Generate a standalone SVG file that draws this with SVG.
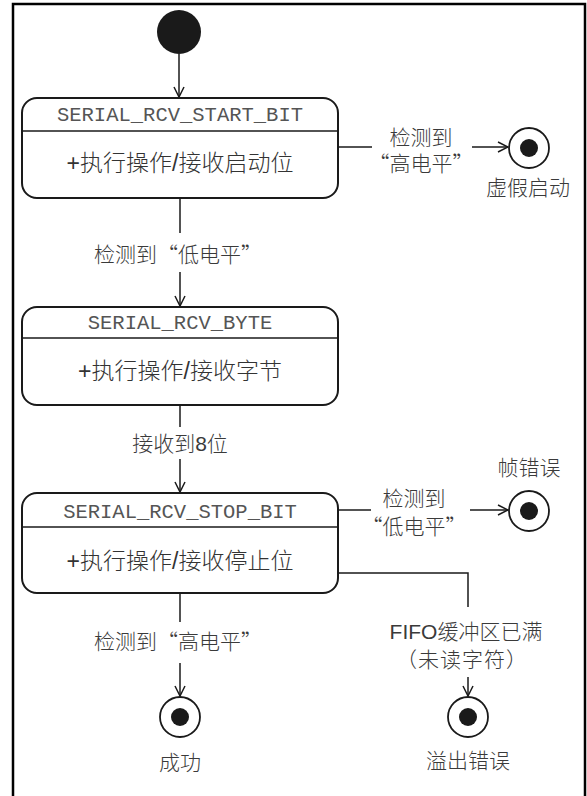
<svg xmlns="http://www.w3.org/2000/svg" width="587" height="796" viewBox="0 0 587 796">
<defs>
<style>
.frame{fill:none;stroke:#000;stroke-width:2.5}
.box{fill:#fff;stroke:#1a1a1a;stroke-width:2}
.sep{stroke:#1a1a1a;stroke-width:1.6}
.edge{fill:none;stroke:#1a1a1a;stroke-width:1.5}
.title{font-family:"Liberation Mono","Courier New",monospace;font-size:20.5px;fill:#555;text-anchor:middle;dominant-baseline:central}
.act{font-family:"Liberation Sans","Noto Sans CJK SC",sans-serif;font-size:23px;font-weight:300;fill:#333;text-anchor:middle;dominant-baseline:central}
.lbl{font-family:"Liberation Sans","Noto Sans CJK SC",sans-serif;font-size:21px;font-weight:300;fill:#3a3a3a;text-anchor:middle;dominant-baseline:central}
.cjk{font-family:"Noto Sans CJK SC",sans-serif}
.fin{fill:#fff;stroke:#1a1a1a;stroke-width:1.8}
.dot{fill:#1a1a1a}
</style>
<marker id="arr" markerWidth="12" markerHeight="12" viewBox="0 0 12 12" refX="11" refY="6" orient="auto" markerUnits="userSpaceOnUse">
<path d="M1,1 L11,6 L1,11" fill="none" stroke="#1a1a1a" stroke-width="1.5"/>
</marker>
</defs>
<rect x="0" y="0" width="587" height="796" fill="#fff"/>
<path class="frame" d="M13,800 V4 H585 V800"/>

<g id="initial">
<circle cx="179" cy="32" r="22" fill="#1a1a1a"/>
</g>

<g id="start_bit">
<rect class="box" x="22" y="98" width="316" height="100" rx="15"/>
<line class="sep" x1="22" y1="131" x2="338" y2="131"/>
<text class="title" x="180" y="115">SERIAL_RCV_START_BIT</text>
<text class="act" x="180" y="163">+执行操作/接收启动位</text>
</g>

<g id="rcv_byte">
<rect class="box" x="22" y="307" width="316" height="98" rx="15"/>
<line class="sep" x1="22" y1="338" x2="338" y2="338"/>
<text class="title" x="180" y="323">SERIAL_RCV_BYTE</text>
<text class="act" x="180" y="371">+执行操作/接收字节</text>
</g>

<g id="stop_bit">
<rect class="box" x="22" y="493" width="316" height="100" rx="15"/>
<line class="sep" x1="22" y1="527" x2="338" y2="527"/>
<text class="title" x="180" y="512">SERIAL_RCV_STOP_BIT</text>
<text class="act" x="180" y="561">+执行操作/接收停止位</text>
</g>

<g id="final_false_start">
<circle class="fin" cx="529" cy="148" r="20"/>
<circle class="dot" cx="529" cy="148" r="9"/>
<text class="lbl" x="528" y="187">虚假启动</text>
</g>

<g id="final_frame_error">
<circle class="fin" cx="529" cy="511" r="20"/>
<circle class="dot" cx="529" cy="511" r="9"/>
<text class="lbl" x="529" y="467">帧错误</text>
</g>

<g id="final_success">
<circle class="fin" cx="180" cy="717" r="20"/>
<circle class="dot" cx="180" cy="717" r="9"/>
<text class="lbl" x="180" y="762">成功</text>
</g>

<g id="final_overflow">
<circle class="fin" cx="468" cy="717" r="20"/>
<circle class="dot" cx="468" cy="717" r="9"/>
<text class="lbl" x="468" y="760">溢出错误</text>
</g>

<g id="connectors">
<line class="edge" x1="179" y1="54" x2="179" y2="97" marker-end="url(#arr)"/>
<line class="edge" x1="338" y1="147" x2="372" y2="147"/>
<line class="edge" x1="472" y1="147" x2="508" y2="147" marker-end="url(#arr)"/>
<text class="lbl" x="421" y="137">检测到</text>
<text class="lbl cjk" x="421" y="162">“高电平”</text>

<line class="edge" x1="180" y1="198" x2="180" y2="233"/>
<text class="lbl cjk" x="178" y="253">检测到“低电平”</text>
<line class="edge" x1="180" y1="272" x2="180" y2="306" marker-end="url(#arr)"/>

<line class="edge" x1="180" y1="405" x2="180" y2="427"/>
<text class="lbl" x="180" y="443">接收到8位</text>
<line class="edge" x1="180" y1="459" x2="180" y2="492" marker-end="url(#arr)"/>

<line class="edge" x1="338" y1="510" x2="371" y2="510"/>
<line class="edge" x1="470" y1="510" x2="508" y2="510" marker-end="url(#arr)"/>
<text class="lbl" x="414" y="498">检测到</text>
<text class="lbl cjk" x="414" y="525">“低电平”</text>

<path class="edge" d="M338,573 H468 V607"/>
<text class="lbl" x="466" y="631" font-size="22">FIFO缓冲区已满</text>
<text class="lbl cjk" x="462" y="658" letter-spacing="1">（未读字符）</text>
<line class="edge" x1="468" y1="677" x2="468" y2="696" marker-end="url(#arr)"/>

<line class="edge" x1="180" y1="593" x2="180" y2="622"/>
<text class="lbl cjk" x="178" y="640">检测到“高电平”</text>
<line class="edge" x1="180" y1="663" x2="180" y2="696" marker-end="url(#arr)"/>
</g>
</svg>
